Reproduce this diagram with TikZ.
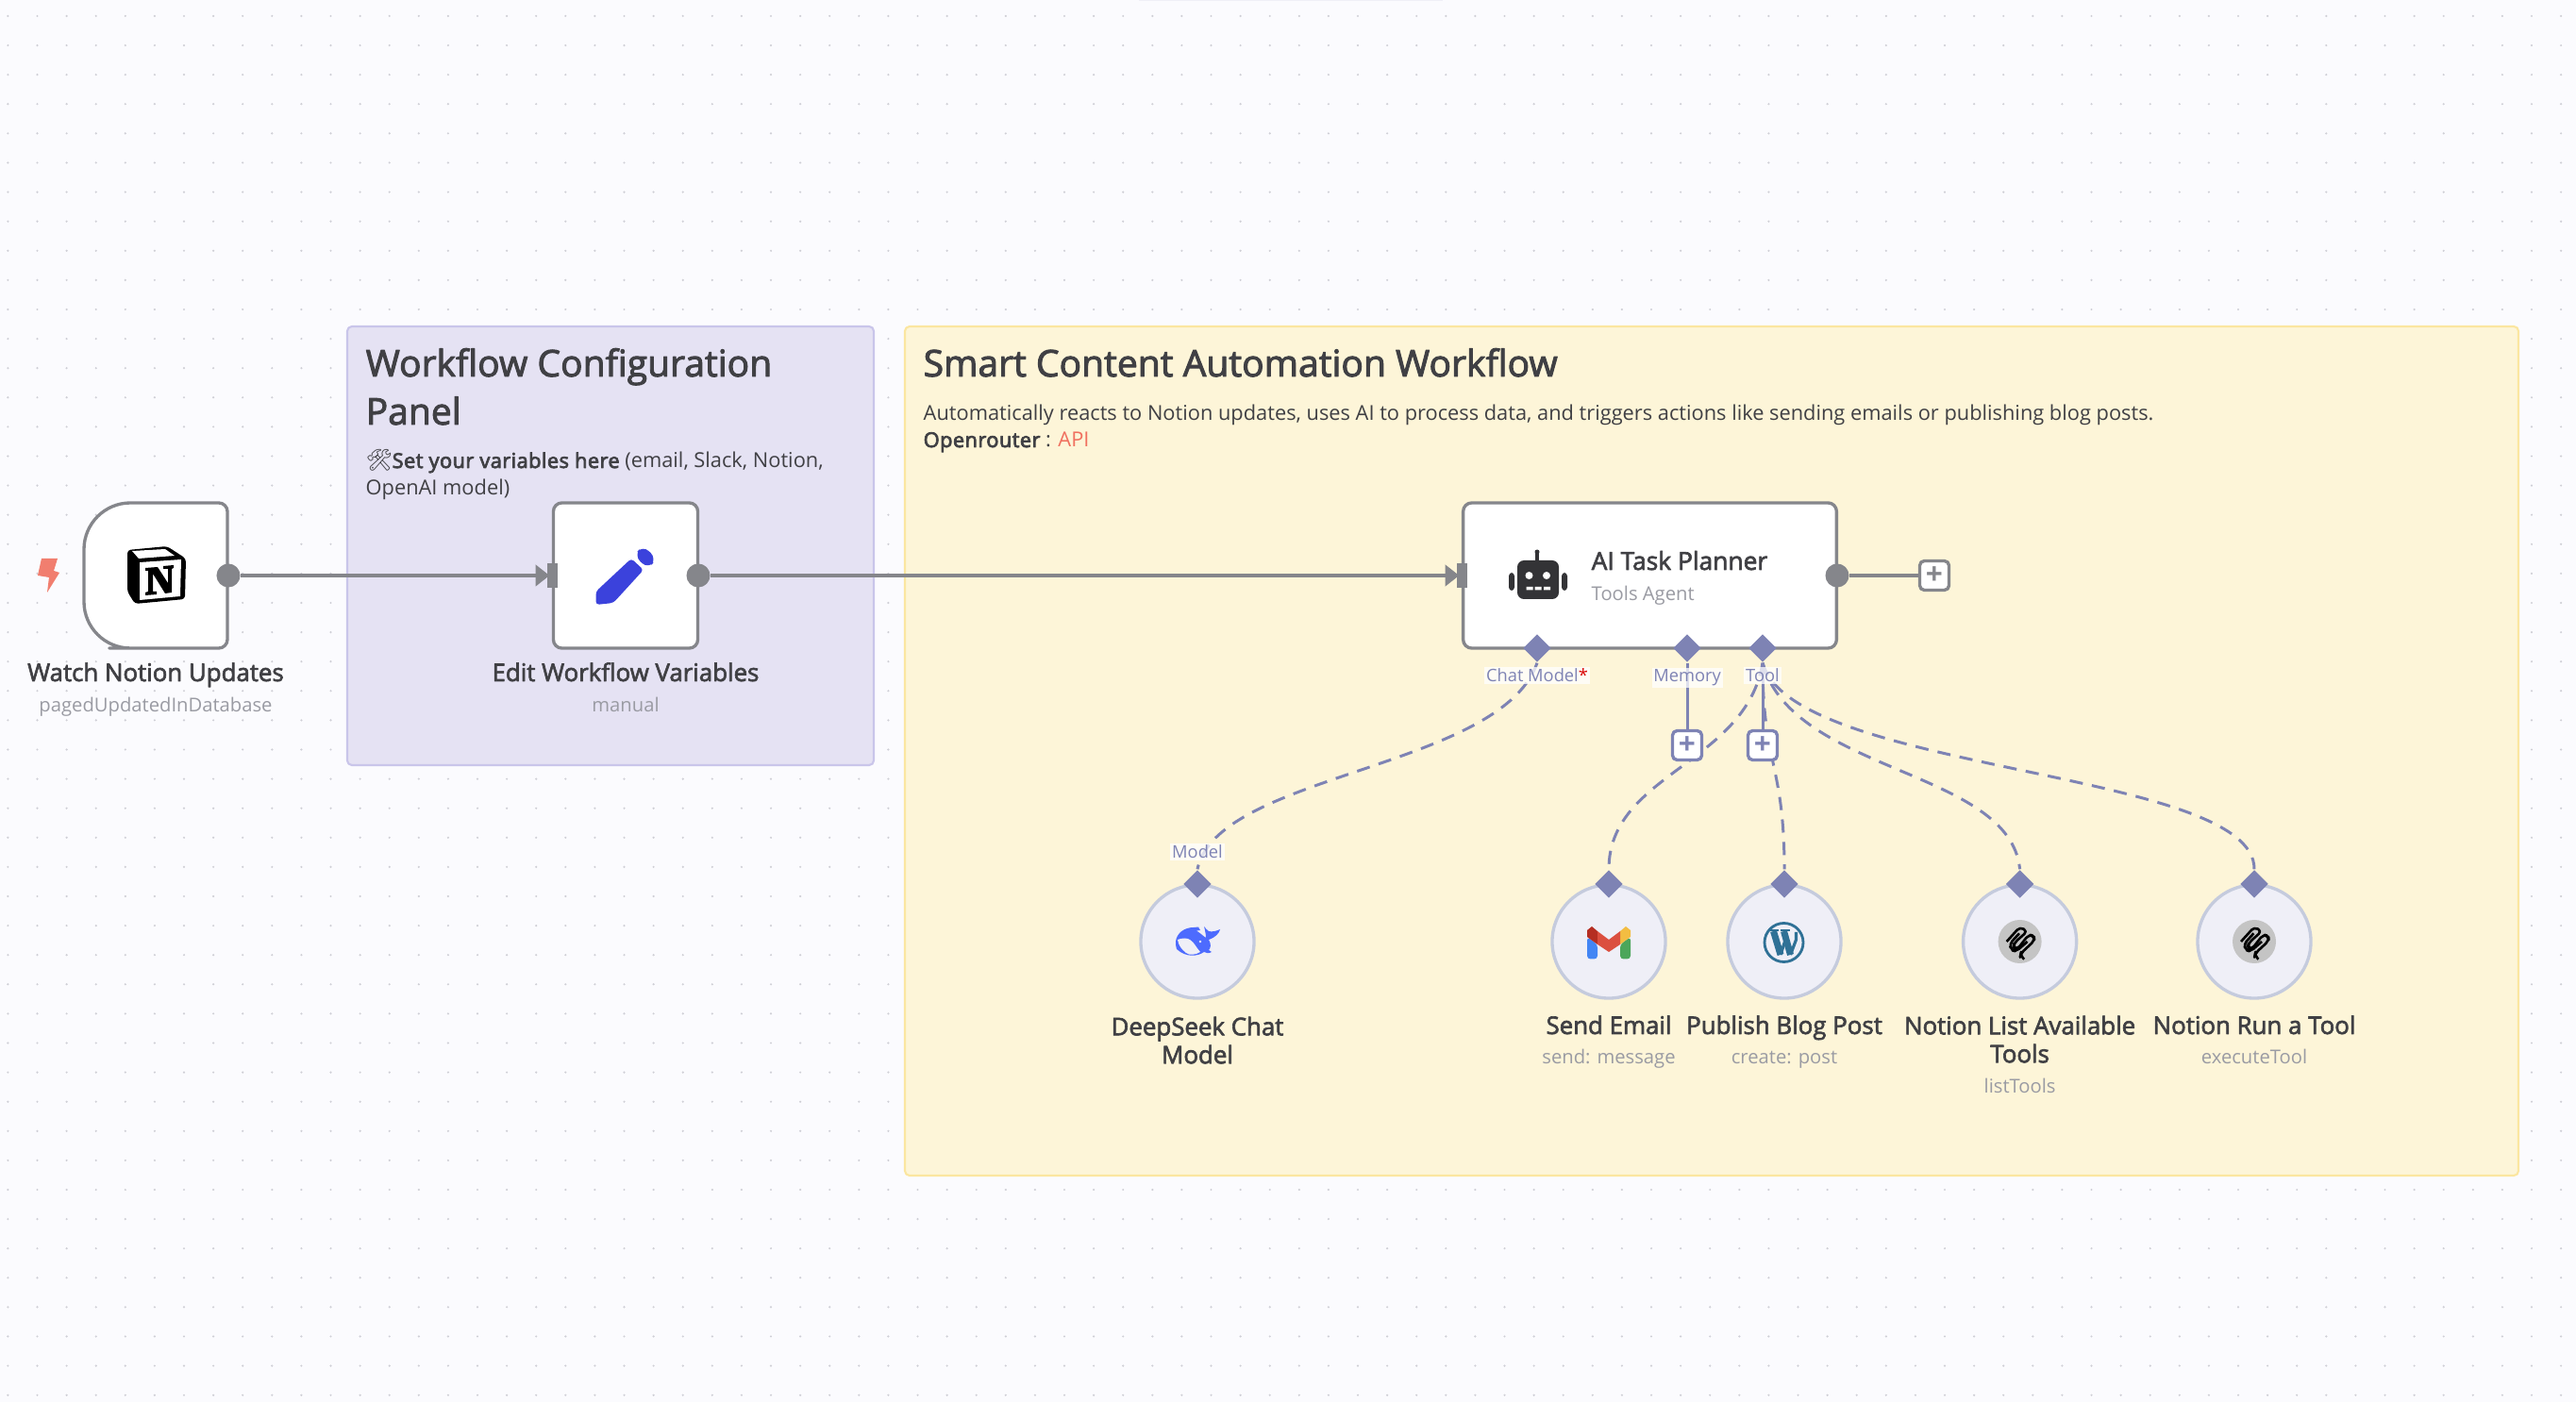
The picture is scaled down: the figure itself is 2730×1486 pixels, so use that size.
\documentclass[tikz,border=0pt]{standalone}
\usepackage{fontspec}
\setmainfont{Open Sans}
\newfontfamily\medfont[FakeBold=2.5]{Open Sans}
\newfontfamily\semifont[FakeBold=3.5,LetterSpace=2]{Open Sans}
\newfontfamily\emojifont{Noto Emoji}
\usetikzlibrary{arrows.meta,shapes.geometric}
\definecolor{pagebg}{HTML}{FBFBFE}
\definecolor{griddot}{HTML}{CFCFD6}
\definecolor{panelfill}{HTML}{E5E2F3}
\definecolor{paneledge}{HTML}{C9C5EA}
\definecolor{notefill}{HTML}{FDF5D8}
\definecolor{noteedge}{HTML}{FBE6A0}
\definecolor{edgegray}{HTML}{85868B}
\definecolor{toolblue}{HTML}{7E83B4}
\definecolor{roundfill}{HTML}{EFEFF7}
\definecolor{roundedge}{HTML}{C5CBDD}
\definecolor{inktext}{HTML}{404044}
\definecolor{subtext}{HTML}{9A9BA3}
\definecolor{salmon}{HTML}{F0705F}
\definecolor{pencilblue}{HTML}{3B42DC}
\definecolor{whaleblue}{HTML}{4D6BFE}
\definecolor{pressblue}{HTML}{2F7196}
\tikzset{
  groupbox/.style={rounded corners=1.4pt,line width=0.6pt},
  nodebox/.style={draw=edgegray,fill=white,line width=0.95pt,rounded corners=2.6pt,inner sep=0pt},
  roundnode/.style={circle,draw=roundedge,fill=roundfill,line width=0.95pt,minimum size=1.2cm,inner sep=0pt},
  portdia/.style={diamond,fill=toolblue,minimum size=0.3cm,inner sep=0pt},
  portout/.style={circle,fill=edgegray,minimum size=0.25cm,inner sep=0pt},
  portin/.style={rectangle,fill=edgegray,minimum width=0.11cm,minimum height=0.25cm,inner sep=0pt},
  plusbtn/.style={draw=#1,text=#1,fill=white,line width=0.95pt,rounded corners=1.4pt,minimum size=0.31cm,inner sep=0pt,font=\fontsize{9}{9}\bfseries},
  wire/.style={draw=edgegray,line width=0.9pt},
  toolwire/.style={draw=toolblue,line width=0.85pt},
  dashwire/.style={toolwire,dash pattern=on 4pt off 2.8pt},
  lblname/.style={text=inktext,font=\fontsize{7.35}{8.5}\medfont,inner sep=0pt,align=center},
  lblsub/.style={text=subtext,font=\fontsize{5.75}{7}\selectfont,inner sep=0pt},
  lblport/.style={text=toolblue,font=\fontsize{5.2}{6}\selectfont,fill=white,fill opacity=0.75,text opacity=1,inner sep=0.5pt},
  lbltitle/.style={text=inktext,font=\fontsize{11.1}{12}\medfont,inner sep=0pt},
  lblbody/.style={text=inktext,font=\fontsize{6.2}{7.5}\selectfont,inner sep=0pt},
}
\begin{document}
\begin{tikzpicture}[x=0.01cm,y=-0.01cm,line join=round,line cap=butt]
	\useasboundingbox (0,0) rectangle (2730,1486);
	\fill[pagebg] (0,0) rectangle (2730,1486);
	\fill[roundfill] (1207,0) rectangle (1529,1.2);
	\foreach \i in {0,...,87}
		\foreach \j in {0,...,47}
			\fill[griddot] (8.4+31.1*\i,17+31.1*\j) circle (1.2);
	% groups
	\draw[groupbox,fill=panelfill,draw=paneledge] (368,346) rectangle (926,811);
	\draw[groupbox,fill=notefill,draw=noteedge] (959,346) rectangle (2669,1246);
	\node[lbltitle,anchor=base west] (titlePanel) at (387,399) {Workflow Configuration};
	\node[lbltitle,anchor=base west] (titlePanelb) at (387,450) {Panel};
	\node[inner sep=0pt,text=inktext,anchor=base west,font=\fontsize{6.4}{8}\emojifont] (toolsEmoji) at (387,496) {^^^^^^01f6e0};
	\node[lblbody,anchor=base west] (notePanel) at (415,496) {{\semifont Set your variables here} (email, Slack, Notion,};
	\node[lblbody,anchor=base west] (notePanelb) at (387,525) {OpenAI model)};
	\node[lbltitle,anchor=base west] (titleSmart) at (978,399) {Smart Content Automation Workflow};
	\node[lblbody,anchor=base west] (noteSmart) at (978,446) {Automatically reacts to Notion updates, uses AI to process data, and triggers actions like sending emails or publishing blog posts.};
	\node[lblbody,anchor=base west] (noteSmartb) at (978,474) {{\semifont Openrouter} : \textcolor{salmon}{API}};
	% main nodes
	\draw[nodebox,rounded corners=0pt] (165,533) [rounded corners=14pt] -- (89,533) -- (89,687) -- (165,687) [rounded corners=2.6pt] -- (241,687) -- (241,533) -- cycle;
	\node[nodebox,minimum width=1.53cm,minimum height=1.54cm] (editNode) at (663,610) {};
	\node[nodebox,minimum width=3.955cm,minimum height=1.54cm] (agentNode) at (1748.5,610) {};
	\node[portout] (outNotion) at (242,610) {};
	\node[portin] (inEdit) at (585,610) {};
	\node[portout] (outEdit) at (740,610) {};
	\node[portin] (inAgent) at (1549,610) {};
	\node[portout] (outAgent) at (1947,610) {};
	\draw[wire,-{Triangle[length=4.2pt,width=6.4pt]},shorten >=-1pt] (outNotion) -- (inEdit);
	\draw[wire,-{Triangle[length=4.2pt,width=6.4pt]},shorten >=-1pt] (outEdit) -- (inAgent);
	% trigger bolt
	\fill[salmon!90] (44,592) -- (61,592) -- (57,605) -- (63,607) -- (50,628) -- (52,612) -- (40,610) -- cycle;
	% notion icon
	\begin{scope}[shift={(165,610)}]
		\fill[black,rounded corners=1pt] (-30,-27) -- (12,-31) -- (32,-18) -- (31,25) -- (-22,30) -- (-30,17) -- cycle;
		\fill[white] (-25,-26) -- (10,-28) -- (20,-21) -- (-18,-18) -- cycle;
		\fill[white] (-17,-14) -- (27,-17) -- (26,22) -- (-17,26) -- cycle;
		\fill[black] (-11,-8) -- (2,-9) -- (13,8) -- (13,-7) -- (8,-7) -- (8,-10) -- (19,-11) -- (19,-8) -- (17,-7) -- (17,18) -- (10,19) -- (-3,-2) -- (-3,17) -- (1,17) -- (1,20) -- (-11,21) -- (-11,18) -- (-8,17) -- (-8,-5) -- (-11,-5) -- cycle;
	\end{scope}
	% pencil icon
	\fill[pencilblue,rounded corners=1pt] (631.5,641) -- (631.5,627) -- (669,592) -- (682,604) -- (650,639) -- cycle;
	\fill[pencilblue,rounded corners=2.5pt] (681,578) -- (672,589) -- (687,603) -- (696,592) -- cycle;
	% agent
	\fill[inktext!80!black] (1629,585) circle (2.5);
	\fill[inktext!80!black] (1627,585) rectangle (1631,596);
	\fill[inktext!80!black,rounded corners=2pt] (1608,594) rectangle (1652,635);
	\fill[inktext!80!black,rounded corners=1pt] (1599,607) rectangle (1605,626);
	\fill[inktext!80!black,rounded corners=1pt] (1655,607) rectangle (1661,626);
	\fill[white] (1620.5,610) circle (4) (1639,610) circle (4);
	\fill[white] (1617.5,622) rectangle (1624.5,625.5) (1626.7,622) rectangle (1633.7,625.5) (1636,622) rectangle (1643,625.5);
	\node[lblname,anchor=base west,font=\fontsize{7.5}{8.5}\medfont] (nameAgent) at (1686,604) {AI Task Planner};
	\node[lblsub,anchor=base west] (subAgent) at (1686,637) {Tools Agent};
	\node[lblname,anchor=base] (nameNotion) at (165,722) {Watch Notion Updates};
	\node[lblsub,anchor=base] (subNotion) at (165,755) {pagedUpdatedInDatabase};
	\node[lblname,anchor=base] (nameEdit) at (663,722) {Edit Workflow Variables};
	\node[lblsub,anchor=base] (subEdit) at (663,755) {manual};
	% sub nodes
	\foreach \nm/\px in {deep/1269,mail/1705,press/1891,list/2140.6,run/2389}{
		\node[roundnode] (\nm Node) at (\px,998) {};
		\node[portdia] (\nm Dia) at (\px,937) {};
	}
	\node[portdia] (chatDia) at (1629,687) {};
	\node[portdia] (memDia) at (1788,687) {};
	\node[portdia] (toolDia) at (1868,687) {};
	\draw[dashwire] (chatDia.south) .. controls (1590,815) and (1290,820) .. (deepDia.north);
	\draw[dashwire] (toolDia.south) .. controls (1850,810) and (1705,820) .. (mailDia.north);
	\draw[dashwire] (toolDia.south) .. controls (1868,810) and (1891,810) .. (pressDia.north);
	\draw[dashwire] (toolDia.south) .. controls (1900,820) and (2130,815) .. (listDia.north);
	\draw[dashwire] (toolDia.south) .. controls (1900,820) and (2390,815) .. (runDia.north);
	\node[plusbtn=edgegray] (plusAgent) at (2050,610) {+};
	\node[plusbtn=toolblue] (plusMem) at (1788,790) {+};
	\node[plusbtn=toolblue] (plusTool) at (1868,790) {+};
	\draw[wire] (outAgent) -- (plusAgent);
	\draw[toolwire] (memDia) -- (plusMem);
	\draw[toolwire] (toolDia) -- (plusTool);
	\node[lblport,anchor=base] (lblChat) at (1629,723) {Chat Model\textcolor{red!85!black}{*}};
	\node[lblport,anchor=base] (lblMem) at (1788,723) {Memory};
	\node[lblport,anchor=base] (lblTool) at (1868,723) {Tool};
	\node[lblport,anchor=base] (lblModel) at (1269,910) {Model};
	% whale
	\begin{scope}[shift={(1269,998)}]
		\fill[whaleblue] (-23,0) .. controls (-22,-9) and (-14,-15) .. (-4,-15) -- (1,-15.5) -- (3,-12) -- (-1,-11.5) .. controls (3,-9) and (6,-6) .. (9,-4) .. controls (9,-8) and (8,-12) .. (7,-16) .. controls (9,-14) and (10,-12) .. (12,-11) .. controls (15,-10) and (20,-11) .. (24,-13) .. controls (23,-9) and (20,-5) .. (12,-2) .. controls (15,3) and (14,7) .. (12,9) -- (15,11) .. controls (12,13) and (9,12) .. (7,11) .. controls (0,16) and (-12,17) .. (-22,8) .. controls (-23,5) and (-23,3) .. (-23,0) -- cycle;
		\fill[roundfill] (-21,-2) .. controls (-16,-4) and (-11,-4) .. (-8,-2) .. controls (-3,1) and (-1,7) .. (3,11) .. controls (-2,14) and (-8,15) .. (-12,12) .. controls (-17,8) and (-20,4) .. (-21,-2) -- cycle;
		\fill[roundfill] (3,0) circle (1.4);
	\end{scope}
	\node[lblname,anchor=north] (nameDeep) at (1269,1077) {DeepSeek Chat\\Model};
	% gmail
	\begin{scope}[shift={(1705,999)}]
		\fill[fill={rgb,255:red,66;green,133;blue,244},rounded corners=1pt] (-23,-6) -- (-12,2) -- (-12,17.5) -- (-23,17.5) -- cycle;
		\fill[fill={rgb,255:red,76;green,166;blue,90},rounded corners=1pt] (23,-6) -- (12,2) -- (12,17.5) -- (23,17.5) -- cycle;
		\fill[fill={rgb,255:red,181;green,46;blue,34}] (-23,-6) -- (-23,-13) -- (-18,-17) -- (-12,-12) -- (-12,2) -- cycle;
		\fill[fill={rgb,255:red,243;green,189;blue,66}] (23,-6) -- (23,-13) -- (18,-17) -- (12,-12) -- (12,2) -- cycle;
		\fill[fill={rgb,255:red,219;green,79;blue,63}] (-12,-12) -- (0,-3) -- (12,-12) -- (12,2) -- (0,10) -- (-12,2) -- cycle;
	\end{scope}
	\node[lblname,anchor=base] (nameMail) at (1705,1096) {Send Email};
	\node[lblsub,anchor=base] (subMail) at (1705,1127) {send: message};
	% wordpress
	\begin{scope}[shift={(1890.5,999)}]
		\draw[line width=0.8pt,pressblue] (0,0) circle (20.5);
		\draw[line width=2pt,pressblue] (-11,-12) -- (-3.5,13) (0,-12) -- (7,13);
		\draw[line width=0.9pt,pressblue] (-3.5,13) -- (1,-1) (7,13) -- (13,-3) .. controls (14,-6) and (12,-8) .. (13,-11);
		\draw[line width=0.8pt,pressblue] (-15.5,-13) -- (-6,-13) (-4,-13) -- (6,-13);
	\end{scope}
	\node[lblname,anchor=base] (namePress) at (1891,1096) {Publish Blog Post};
	\node[lblsub,anchor=base] (subPress) at (1891,1127) {create: post};
	% squiggle icons
	\foreach \nm/\px in {list/2140.6,run/2389}{
		\begin{scope}[shift={(\px,998)}]
			\fill[fill={rgb,255:red,196;green,196;blue,196}] (0,0) circle (23);
			\draw[black,line width=0.75pt,rounded corners=1.2pt] (-14,0) -- (0,-15.5) -- (8,-11) -- (-6,1.5) -- (-7,6) -- (-3,8.5) -- (9.5,-7.5) -- (15,-6) -- (15.5,-1) -- (1,12.5) -- (0.5,15) -- (4.5,18.7);
			\draw[black,line width=0.75pt,rounded corners=1.2pt] (-0.6,-8.7) -- (-11,2.7) -- (-9,9) -- (-4,10.5) -- (8,0);
		\end{scope}
	}
	\node[lblname,anchor=north] (nameList) at (2140.6,1076) {Notion List Available\\Tools};
	\node[lblsub,anchor=base] (subList) at (2140.6,1159) {listTools};
	\node[lblname,anchor=base] (nameRun) at (2389,1096) {Notion Run a Tool};
	\node[lblsub,anchor=base] (subRun) at (2389,1127) {executeTool};
\end{tikzpicture}
\end{document}
